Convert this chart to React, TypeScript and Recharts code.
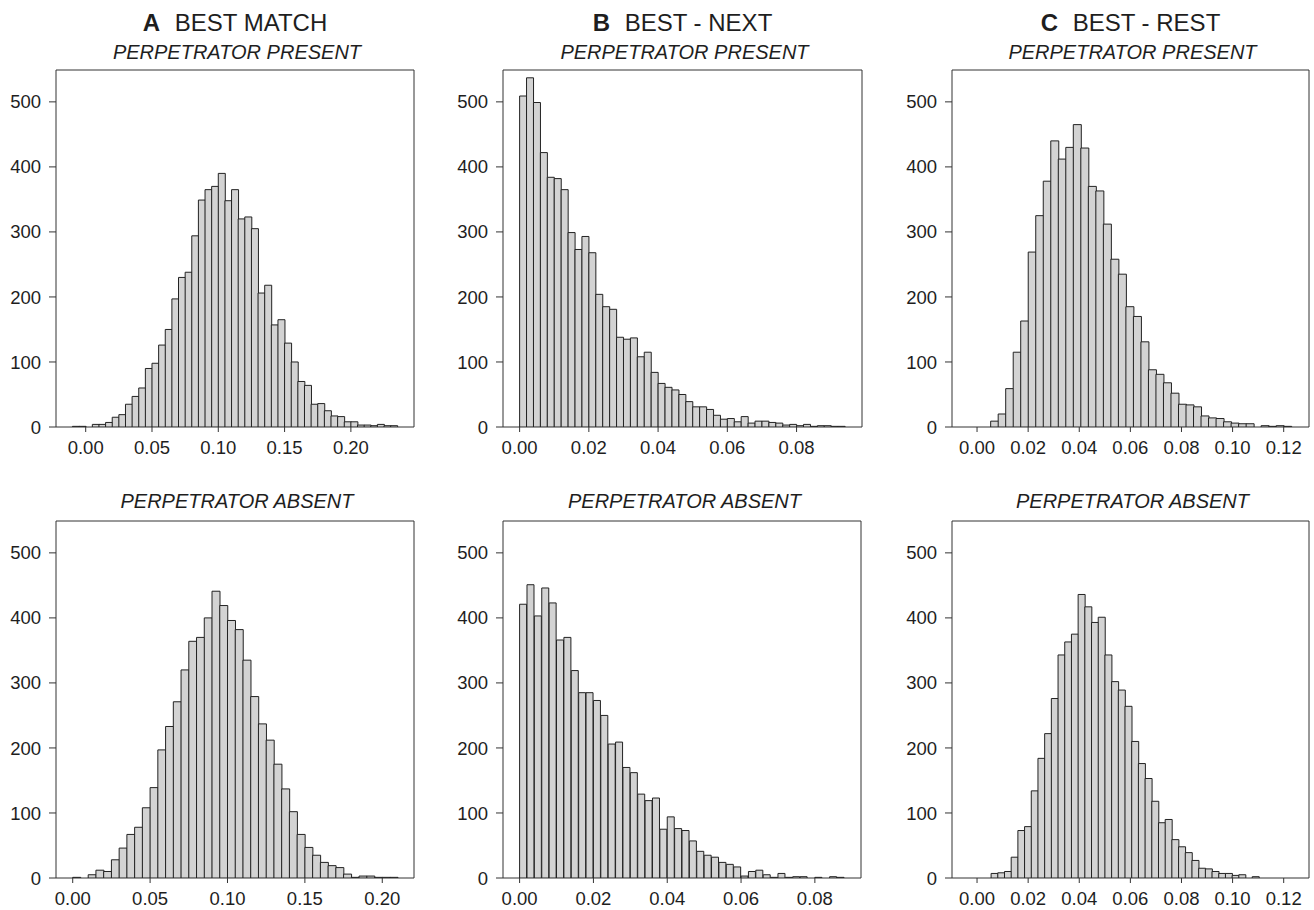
import React from 'react';
import { BarChart, Bar, XAxis, YAxis, ReferenceArea } from 'recharts';

// --- bin centres (x) and counts ---

// A: best match, bins of 0.005
const binsATop = [
  -0.0075, -0.0025, 0.0025, 0.0075, 0.0125, 0.0175, 0.0225, 0.0275, 0.0325, 0.0375,
  0.0425, 0.0475, 0.0525, 0.0575, 0.0625, 0.0675, 0.0725, 0.0775, 0.0825, 0.0875,
  0.0925, 0.0975, 0.1025, 0.1075, 0.1125, 0.1175, 0.1225, 0.1275, 0.1325, 0.1375,
  0.1425, 0.1475, 0.1525, 0.1575, 0.1625, 0.1675, 0.1725, 0.1775, 0.1825, 0.1875,
  0.1925, 0.1975, 0.2025, 0.2075, 0.2125, 0.2175, 0.2225, 0.2275, 0.2325,
];
const countsATop = [
  1, 1, 0, 4, 4, 7, 15, 19, 35, 47,
  60, 90, 98, 126, 150, 197, 230, 238, 294, 349,
  365, 370, 390, 348, 365, 320, 323, 305, 206, 218,
  157, 165, 129, 100, 70, 64, 35, 36, 25, 17,
  16, 8, 8, 3, 3, 2, 4, 2, 2,
];

const binsABottom = [
  0.0025, 0.0075, 0.0125, 0.0175, 0.0225, 0.0275, 0.0325, 0.0375, 0.0425, 0.0475,
  0.0525, 0.0575, 0.0625, 0.0675, 0.0725, 0.0775, 0.0825, 0.0875, 0.0925, 0.0975,
  0.1025, 0.1075, 0.1125, 0.1175, 0.1225, 0.1275, 0.1325, 0.1375, 0.1425, 0.1475,
  0.1525, 0.1575, 0.1625, 0.1675, 0.1725, 0.1775, 0.1825, 0.1875, 0.1925, 0.1975,
  0.2025, 0.2075,
];
const countsABottom = [
  1, 0, 5, 12, 10, 28, 46, 67, 78, 108,
  139, 197, 233, 271, 320, 364, 370, 400, 441, 419,
  396, 382, 335, 279, 237, 212, 175, 137, 102, 67,
  47, 35, 24, 19, 16, 6, 1, 3, 3, 1,
  1, 1,
];

// B: best - next, bins of 0.002
const binsBTop = [
  0.001, 0.003, 0.005, 0.007, 0.009, 0.011, 0.013, 0.015, 0.017, 0.019,
  0.021, 0.023, 0.025, 0.027, 0.029, 0.031, 0.033, 0.035, 0.037, 0.039,
  0.041, 0.043, 0.045, 0.047, 0.049, 0.051, 0.053, 0.055, 0.057, 0.059,
  0.061, 0.063, 0.065, 0.067, 0.069, 0.071, 0.073, 0.075, 0.077, 0.079,
  0.081, 0.083, 0.085, 0.087, 0.089, 0.091, 0.093,
];
const countsBTop = [
  509, 537, 499, 422, 384, 382, 365, 299, 273, 293,
  268, 204, 185, 181, 138, 135, 137, 108, 115, 84,
  67, 61, 57, 50, 39, 31, 31, 27, 18, 12,
  13, 8, 16, 6, 9, 9, 7, 6, 3, 4,
  2, 4, 1, 2, 2, 1, 1,
];

const binsBBottom = [
  0.001, 0.003, 0.005, 0.007, 0.009, 0.011, 0.013, 0.015, 0.017, 0.019,
  0.021, 0.023, 0.025, 0.027, 0.029, 0.031, 0.033, 0.035, 0.037, 0.039,
  0.041, 0.043, 0.045, 0.047, 0.049, 0.051, 0.053, 0.055, 0.057, 0.059,
  0.061, 0.063, 0.065, 0.067, 0.069, 0.071, 0.073, 0.075, 0.077, 0.079,
  0.081, 0.083, 0.085, 0.087,
];
const countsBBottom = [
  421, 451, 403, 446, 423, 366, 370, 319, 285, 285,
  273, 250, 206, 209, 170, 162, 129, 119, 123, 75,
  94, 76, 73, 57, 41, 35, 32, 24, 21, 17,
  3, 10, 12, 5, 1, 7, 1, 2, 2, 0,
  1, 0, 2, 1,
];

// C: best - rest, odd-width bins
const binsCTop = [
  0.0068, 0.00974, 0.01268, 0.01562, 0.01856, 0.0215, 0.02444, 0.02738, 0.03032, 0.03326,
  0.0362, 0.03914, 0.04208, 0.04502, 0.04796, 0.0509, 0.05384, 0.05678, 0.05972, 0.06266,
  0.0656, 0.06854, 0.07148, 0.07442, 0.07736, 0.0803, 0.08324, 0.08618, 0.08912, 0.09206,
  0.095, 0.09794, 0.10088, 0.10382, 0.10676, 0.1097, 0.11264, 0.11558, 0.11852, 0.12146,
];
const countsCTop = [
  9, 20, 59, 115, 163, 269, 325, 378, 440, 412,
  430, 465, 429, 370, 363, 312, 258, 235, 185, 170,
  131, 88, 81, 68, 52, 35, 34, 31, 17, 14,
  13, 8, 6, 5, 5, 0, 2, 1, 2, 1,
];

const binsCBottom = [
  0.00681, 0.00943, 0.01205, 0.01467, 0.01729, 0.01991, 0.02253, 0.02515, 0.02777, 0.03039,
  0.03301, 0.03563, 0.03825, 0.04087, 0.04349, 0.04611, 0.04873, 0.05135, 0.05397, 0.05659,
  0.05921, 0.06183, 0.06445, 0.06707, 0.06969, 0.07231, 0.07493, 0.07755, 0.08017, 0.08279,
  0.08541, 0.08803, 0.09065, 0.09327, 0.09589, 0.09851, 0.10113, 0.10375, 0.10637, 0.10899,
];
const countsCBottom = [
  7, 8, 10, 32, 73, 79, 134, 184, 222, 276,
  343, 363, 375, 436, 417, 393, 401, 343, 302, 289,
  264, 210, 176, 153, 118, 85, 90, 59, 48, 39,
  27, 15, 14, 10, 7, 7, 4, 5, 0, 2,
];

const ticksA = [0, 0.05, 0.1, 0.15, 0.2];
const ticksB = [0, 0.02, 0.04, 0.06, 0.08];
const ticksC = [0, 0.02, 0.04, 0.06, 0.08, 0.1, 0.12];
const yTicks = [0, 100, 200, 300, 400, 500];
const Y_MAX = 549;

const FONT = '"Liberation Sans", Arial, Helvetica, sans-serif';
const INK = '#1e1e1e';

const toRows = (bins: number[], counts: number[]) =>
  bins.map((x, i) => ({ x, n: counts[i] }));

interface PanelProps {
  box: { x: number; y: number; w: number; h: number };
  bins: number[];
  counts: number[];
  domain: [number, number];
  ticks: number[];
}

// one histogram; the plot area lands exactly on `box`
const Histogram = ({ box, bins, counts, domain, ticks }: PanelProps) => {
  const yAxisW = 60;
  const xAxisH = 40;
  const m = { top: 10, right: 10, bottom: 0, left: 0 };
  return (
    <div style={{ position: 'absolute', left: box.x - yAxisW, top: box.y - m.top }}>
      <BarChart
        width={box.w + yAxisW + m.right}
        height={box.h + m.top + xAxisH}
        data={toRows(bins, counts)}
        margin={m}
        barCategoryGap={0}
        barGap={0}
      >
        <XAxis
          type="number"
          dataKey="x"
          domain={domain}
          allowDataOverflow
          ticks={ticks}
          interval={0}
          height={xAxisH}
          axisLine={false}
          tickSize={5}
          tickMargin={9}
          tickLine={{ stroke: '#333' }}
          tick={{ fill: INK, fontSize: 18.5, fontFamily: FONT }}
          tickFormatter={(v: number) => v.toFixed(2)}
        />
        <YAxis
          type="number"
          domain={[0, Y_MAX]}
          allowDataOverflow
          ticks={yTicks}
          interval={0}
          width={yAxisW}
          axisLine={false}
          tickSize={7}
          tickMargin={8}
          tickLine={{ stroke: '#333' }}
          tick={{ fill: INK, fontSize: 18.5, fontFamily: FONT }}
        />
        <Bar dataKey="n" fill="#d3d3d3" stroke="#222" strokeWidth={1} isAnimationActive={false} />
        <ReferenceArea
          x1={domain[0]}
          x2={domain[1]}
          y1={0}
          y2={Y_MAX}
          fill="none"
          fillOpacity={0}
          stroke="#333"
          strokeWidth={1}
          strokeOpacity={1}
        />
      </BarChart>
    </div>
  );
};

const boxes = {
  aTop: { x: 56, y: 70, w: 358, h: 357 },
  bTop: { x: 503, y: 70, w: 359, h: 357 },
  cTop: { x: 952, y: 70, w: 357, h: 357 },
  aBot: { x: 56, y: 521, w: 358, h: 357 },
  bBot: { x: 503, y: 521, w: 358, h: 357 },
  cBot: { x: 952, y: 521, w: 357, h: 357 },
};

const columns = [
  { letter: 'A', title: 'BEST MATCH', box: boxes.aTop },
  { letter: 'B', title: 'BEST - NEXT', box: boxes.bTop },
  { letter: 'C', title: 'BEST - REST', box: boxes.cTop },
];

export default function App() {
  return (
    <div
      style={{
        position: 'absolute',
        left: 0,
        top: 0,
        width: 1314,
        height: 910,
        background: '#fff',
        fontFamily: FONT,
      }}
    >
      <Histogram box={boxes.aTop} bins={binsATop} counts={countsATop} domain={[-0.0224, 0.2476]} ticks={ticksA} />
      <Histogram box={boxes.bTop} bins={binsBTop} counts={countsBTop} domain={[-0.0048, 0.0989]} ticks={ticksB} />
      <Histogram box={boxes.cTop} bins={binsCTop} counts={countsCTop} domain={[-0.0098, 0.1299]} ticks={ticksC} />
      <Histogram box={boxes.aBot} bins={binsABottom} counts={countsABottom} domain={[-0.0108, 0.2205]} ticks={ticksA} />
      <Histogram box={boxes.bBot} bins={binsBBottom} counts={countsBBottom} domain={[-0.0045, 0.0925]} ticks={ticksB} />
      <Histogram box={boxes.cBot} bins={binsCBottom} counts={countsCBottom} domain={[-0.0098, 0.1299]} ticks={ticksC} />

      {/* titles */}
      <svg width={1314} height={910} style={{ position: 'absolute', left: 0, top: 0, pointerEvents: 'none' }}>
        {columns.map((c) => {
          const cx = c.box.x + c.box.w / 2;
          return (
            <g key={c.letter} fill={INK} fontFamily={FONT} textAnchor="middle">
              <text x={cx} y={30.7} fontSize={24}>
                <tspan fontWeight="bold">{c.letter}</tspan>
                <tspan dx={8}>{' ' + c.title}</tspan>
              </text>
              <text x={cx + 2} y={59.3} fontSize={20} fontStyle="italic">
                PERPETRATOR PRESENT
              </text>
              <text x={cx + 2} y={508.3} fontSize={20} fontStyle="italic">
                PERPETRATOR ABSENT
              </text>
            </g>
          );
        })}
      </svg>
    </div>
  );
}
